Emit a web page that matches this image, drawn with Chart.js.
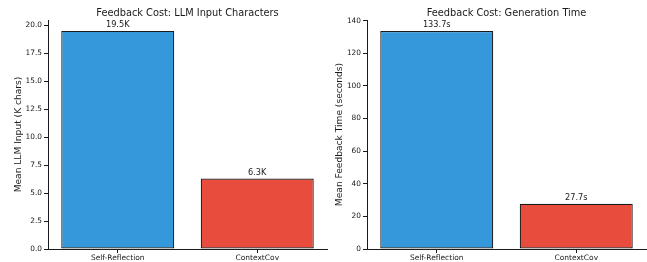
<!DOCTYPE html>
<html>
<head>
<meta charset="utf-8">
<script src="https://cdn.jsdelivr.net/npm/chart.js@4"></script>
<style>
  body { margin: 0; background: #fff; }
  .wrap { position: absolute; top: 0; }
</style>
</head>
<body>
<div class="wrap" style="left:0"><canvas id="inputChart" width="330" height="262"></canvas></div>
<div class="wrap" style="left:330px"><canvas id="timeChart" width="317" height="262"></canvas></div>
<script>
// chart data
const categories = ["Self-Reflection", "ContextCov"];
const inputChars = [19.5, 6.3]; // K chars
const genTime = [133.7, 27.7]; // seconds
const barColors = ["#3498db", "#e74c3c"];

const FONT = "'DejaVu Sans', sans-serif";
const TEXT = "#1a1a1a";

// draws title, y-axis title and value labels over the bars
const annotatePlugin = {
  id: "annotate",
  afterDatasetsDraw(chart, args, opts) {
    const ctx = chart.ctx;
    const area = chart.chartArea;
    ctx.save();
    ctx.fillStyle = TEXT;

    ctx.font = "9.8px " + FONT;
    ctx.textAlign = "center";
    ctx.textBaseline = "middle";
    ctx.fillText(opts.title, (area.left + area.right) / 2, 13);

    ctx.save();
    ctx.translate(opts.yTitleX, (area.top + area.bottom) / 2);
    ctx.rotate(-Math.PI / 2);
    ctx.font = "9.1px " + FONT;
    ctx.fillText(opts.yTitle, 0, 0);
    ctx.restore();

    ctx.font = "8.2px " + FONT;
    ctx.textBaseline = "bottom";
    const meta = chart.getDatasetMeta(0);
    meta.data.forEach((bar, i) => {
      const v = chart.data.datasets[0].data[i];
      ctx.fillText(opts.format(v), bar.x, bar.y - 1.5);
    });
    ctx.restore();
  },
};

function makeChart(id, values, cfg) {
  const ctx = document.getElementById(id).getContext("2d");
  return new Chart(ctx, {
    type: "bar",
    data: {
      labels: categories,
      datasets: [
        {
          data: values,
          backgroundColor: barColors,
          borderColor: "#1a1a1a",
          borderWidth: 1.2,
          borderSkipped: false,
          barPercentage: 0.81,
          categoryPercentage: 1.0,
        },
      ],
    },
    options: {
      responsive: false,
      animation: false,
      devicePixelRatio: 1,
      layout: { padding: { top: 20, right: cfg.padRight, left: 0, bottom: 0 } },
      plugins: {
        legend: { display: false },
        tooltip: { enabled: false },
        annotate: {
          title: cfg.title,
          yTitle: cfg.yTitle,
          yTitleX: cfg.yTitleX,
          format: cfg.format,
        },
      },
      scales: {
        x: {
          offset: true,
          grid: { display: true, drawOnChartArea: false, offset: false, tickLength: 4, color: "#1a1a1a" },
          border: { color: "#1a1a1a", width: 1 },
          ticks: { font: { size: 7.5, family: FONT }, color: TEXT, padding: 1, maxRotation: 0 },
          afterFit(scale) {
            scale.height = 13;
          },
        },
        y: {
          min: 0,
          max: cfg.max,
          grid: { display: true, drawOnChartArea: false, tickLength: 4, color: "#1a1a1a" },
          border: { color: "#1a1a1a", width: 1 },
          ticks: {
            stepSize: cfg.step,
            includeBounds: false,
            font: { size: 7.4, family: FONT },
            color: TEXT,
            padding: 2,
            callback: cfg.tickFormat,
          },
          afterFit(scale) {
            scale.width = cfg.yWidth;
          },
        },
      },
    },
    plugins: [annotatePlugin],
  });
}

makeChart("inputChart", inputChars, {
  title: "Feedback Cost: LLM Input Characters",
  yTitle: "Mean LLM Input (K chars)",
  yTitleX: 19,
  max: 20.475,
  step: 2.5,
  yWidth: 48,
  padRight: 3,
  tickFormat: (v) => v.toFixed(1),
  format: (v) => v.toFixed(1) + "K",
});

makeChart("timeChart", genTime, {
  title: "Feedback Cost: Generation Time",
  yTitle: "Mean Feedback Time (seconds)",
  yTitleX: 10,
  max: 140.4,
  step: 20,
  yWidth: 37,
  padRight: 1,
  tickFormat: (v) => v.toFixed(0),
  format: (v) => v.toFixed(1) + "s",
});
</script>
</body>
</html>
